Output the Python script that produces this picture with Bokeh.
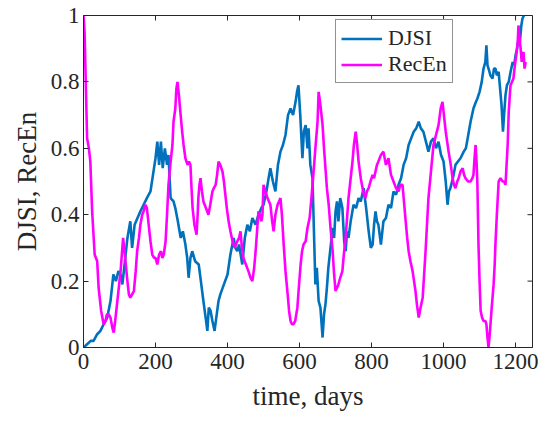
import math
from bokeh.plotting import figure
from bokeh.models import LinearAxis, Range1d, Legend, LegendItem, FixedTicker
from bokeh.embed import file_html
from bokeh.resources import INLINE

# ---- data ----
djsi_days = [0, 10, 20, 28, 38, 47, 56, 66, 75, 83, 90, 97, 103, 108, 115, 122, 130, 135, 142, 150,
             158, 167, 176, 186, 193, 200, 205, 210, 215, 220, 226, 232, 236, 242, 250, 255, 262, 270,
             276, 283, 288, 292, 297, 302, 310, 320, 326, 333, 338, 344, 348, 353, 358, 364, 370, 375,
             380, 390, 400, 408, 417, 422, 427, 432, 441, 448, 455, 462, 469, 478, 486, 494, 500, 508,
             514, 519, 526, 533, 540, 547, 554, 561, 568, 575, 582, 589, 593, 597, 602, 608, 612, 617,
             622, 625, 630, 636, 640, 644, 648, 653, 658, 664, 668, 672, 676, 680, 686, 692, 696, 700,
             704, 708, 713, 719, 724, 728, 732, 736, 742, 750, 757, 764, 770, 778, 785, 792, 798, 803,
             807, 811, 815, 819, 826, 833, 840, 847, 854, 861, 868, 875, 882, 889, 896, 903, 910, 917,
             924, 931, 937, 944, 951, 958, 965, 972, 979, 986, 993, 1000, 1006, 1011, 1015, 1019, 1026,
             1033, 1040, 1047, 1056, 1062, 1067, 1075, 1083, 1090, 1094, 1100, 1106, 1111, 1116, 1119,
             1122, 1125, 1130, 1136, 1140, 1144, 1148, 1153, 1157, 1161, 1165, 1168, 1172, 1176, 1181,
             1186, 1192, 1196, 1200, 1204, 1208, 1212, 1216, 1219, 1223]
djsi = [0.00, 0.01, 0.02, 0.02, 0.04, 0.05, 0.07, 0.09, 0.14, 0.22, 0.20, 0.23, 0.22, 0.19, 0.26, 0.33,
        0.38, 0.30, 0.37, 0.39, 0.41, 0.43, 0.45, 0.47, 0.52, 0.57, 0.62, 0.55, 0.62, 0.54, 0.60, 0.55,
        0.58, 0.45, 0.44, 0.42, 0.38, 0.33, 0.35, 0.31, 0.27, 0.21, 0.27, 0.29, 0.26, 0.25, 0.20, 0.14,
        0.10, 0.05, 0.12, 0.11, 0.08, 0.05, 0.10, 0.14, 0.16, 0.19, 0.22, 0.28, 0.33, 0.30, 0.29, 0.31,
        0.25, 0.33, 0.37, 0.35, 0.39, 0.37, 0.40, 0.42, 0.43, 0.47, 0.51, 0.54, 0.50, 0.47, 0.55, 0.59,
        0.61, 0.64, 0.70, 0.72, 0.70, 0.74, 0.77, 0.79, 0.70, 0.57, 0.65, 0.67, 0.60, 0.66, 0.55, 0.51,
        0.35, 0.19, 0.24, 0.14, 0.12, 0.03, 0.10, 0.13, 0.18, 0.24, 0.30, 0.36, 0.33, 0.41, 0.44, 0.38,
        0.45, 0.42, 0.32, 0.29, 0.35, 0.33, 0.38, 0.43, 0.42, 0.45, 0.44, 0.48, 0.42, 0.35, 0.30, 0.31,
        0.37, 0.41, 0.38, 0.37, 0.31, 0.38, 0.39, 0.43, 0.42, 0.47, 0.46, 0.49, 0.51, 0.55, 0.57, 0.61,
        0.63, 0.65, 0.66, 0.68, 0.66, 0.65, 0.62, 0.59, 0.62, 0.63, 0.60, 0.62, 0.58, 0.56, 0.50, 0.43,
        0.47, 0.48, 0.51, 0.55, 0.56, 0.57, 0.59, 0.60, 0.63, 0.68, 0.72, 0.74, 0.75, 0.77, 0.80, 0.84,
        0.86, 0.91, 0.85, 0.84, 0.82, 0.81, 0.84, 0.84, 0.82, 0.83, 0.78, 0.73, 0.65, 0.70, 0.76, 0.79,
        0.80, 0.83, 0.86, 0.85, 0.88, 0.90, 0.93, 0.92, 0.97, 0.99, 1.00]

recen_days = [0, 3, 6, 10, 15, 19, 24, 31, 38, 42, 49, 56, 61, 65, 70, 75, 80, 84, 88, 93, 98, 103, 110,
              115, 121, 126, 130, 135, 140, 145, 149, 154, 158, 163, 167, 172, 176, 181, 186, 191, 196,
              200, 205, 210, 215, 219, 223, 228, 232, 236, 242, 247, 250, 255, 258, 261, 265, 269, 274,
              278, 283, 289, 293, 297, 300, 303, 308, 314, 317, 319, 322, 325, 329, 333, 340, 347, 352,
              358, 362, 367, 371, 375, 380, 386, 390, 394, 398, 403, 408, 414, 420, 427, 432, 436, 440,
              444, 451, 458, 464, 469, 474, 478, 482, 486, 490, 494, 497, 500, 505, 511, 515, 519, 524,
              528, 533, 539, 543, 547, 551, 556, 561, 567, 571, 575, 579, 583, 588, 594, 598, 603, 607,
              611, 617, 622, 628, 633, 639, 644, 650, 653, 657, 661, 664, 668, 672, 676, 681, 686, 692,
              696, 700, 704, 708, 713, 719, 723, 728, 732, 736, 741, 747, 751, 756, 760, 764, 770, 775,
              779, 783, 787, 792, 797, 803, 807, 811, 815, 819, 826, 833, 840, 847, 854, 861, 868, 875,
              880, 886, 890, 894, 899, 903, 908, 914, 918, 922, 926, 931, 936, 942, 946, 950, 954, 958,
              965, 972, 979, 986, 992, 997, 1001, 1006, 1010, 1014, 1020, 1025, 1029, 1033, 1038, 1042,
              1047, 1053, 1057, 1061, 1068, 1075, 1080, 1083, 1086, 1089, 1092, 1094, 1097, 1100, 1103,
              1107, 1111, 1116, 1119, 1122, 1125, 1129, 1133, 1136, 1139, 1142, 1144, 1148, 1153, 1158,
              1164, 1168, 1172, 1175, 1178, 1181, 1184, 1186, 1190, 1194, 1198, 1202, 1206, 1208, 1211,
              1214, 1217, 1219, 1222, 1225, 1228]
recen = [1.00, 0.95, 0.81, 0.63, 0.60, 0.56, 0.41, 0.28, 0.26, 0.18, 0.11, 0.07, 0.08, 0.10, 0.10, 0.09,
         0.06, 0.045, 0.08, 0.13, 0.18, 0.23, 0.33, 0.28, 0.21, 0.16, 0.15, 0.16, 0.17, 0.23, 0.29, 0.33,
         0.37, 0.40, 0.41, 0.43, 0.42, 0.37, 0.32, 0.28, 0.27, 0.27, 0.25, 0.28, 0.29, 0.27, 0.28, 0.32,
         0.40, 0.49, 0.56, 0.61, 0.68, 0.72, 0.78, 0.80, 0.76, 0.71, 0.65, 0.61, 0.57, 0.55, 0.56, 0.55,
         0.48, 0.42, 0.37, 0.34, 0.40, 0.45, 0.49, 0.51, 0.47, 0.44, 0.42, 0.40, 0.43, 0.47, 0.48, 0.49,
         0.52, 0.56, 0.55, 0.53, 0.50, 0.46, 0.42, 0.38, 0.35, 0.32, 0.30, 0.32, 0.33, 0.35, 0.30, 0.27,
         0.25, 0.23, 0.21, 0.20, 0.24, 0.29, 0.35, 0.41, 0.40, 0.38, 0.40, 0.49, 0.47, 0.45, 0.44, 0.43,
         0.38, 0.35, 0.40, 0.43, 0.44, 0.45, 0.40, 0.31, 0.23, 0.16, 0.11, 0.08, 0.07, 0.07, 0.08, 0.12,
         0.18, 0.25, 0.29, 0.31, 0.32, 0.36, 0.39, 0.45, 0.53, 0.60, 0.68, 0.77, 0.74, 0.70, 0.67, 0.60,
         0.54, 0.48, 0.43, 0.36, 0.29, 0.22, 0.17, 0.18, 0.19, 0.21, 0.23, 0.28, 0.33, 0.39, 0.45, 0.50,
         0.56, 0.61, 0.65, 0.61, 0.56, 0.51, 0.48, 0.46, 0.45, 0.47, 0.48, 0.50, 0.52, 0.51, 0.53, 0.55,
         0.56, 0.58, 0.59, 0.55, 0.57, 0.52, 0.50, 0.48, 0.47, 0.49, 0.49, 0.44, 0.39, 0.33, 0.29, 0.26,
         0.23, 0.20, 0.17, 0.13, 0.09, 0.12, 0.15, 0.22, 0.29, 0.37, 0.45, 0.53, 0.61, 0.64, 0.67, 0.72,
         0.74, 0.70, 0.65, 0.62, 0.59, 0.55, 0.51, 0.49, 0.48, 0.50, 0.51, 0.53, 0.54, 0.52, 0.51, 0.50,
         0.50, 0.51, 0.52, 0.57, 0.61, 0.55, 0.49, 0.31, 0.20, 0.11, 0.09, 0.08, 0.08, 0.07, 0.03, 0.00,
         0.05, 0.11, 0.15, 0.19, 0.25, 0.31, 0.40, 0.50, 0.51, 0.50, 0.50, 0.49, 0.55, 0.61, 0.71, 0.76,
         0.79, 0.80, 0.81, 0.85, 0.88, 0.92, 0.97, 0.93, 0.90, 0.86, 0.88, 0.89, 0.84, 0.86]

x_ticks = [0, 200, 400, 600, 800, 1000, 1200]
y_ticks = [0, 0.2, 0.4, 0.6, 0.8, 1]
x_max = 1247
x_label = "time, days"
y_label = "DJSI, RecEn"
series_names = ["DJSI", "RecEn"]

FONT = "Liberation Serif"
AX = "#262626"

p = figure(width=550, height=421, output_backend="svg", toolbar_location=None,
           x_range=Range1d(0, x_max), y_range=Range1d(0, 1),
           x_axis_location=None, y_axis_location=None,
           min_border_left=83, min_border_right=18, min_border_top=15, min_border_bottom=74)
p.background_fill_color = "white"
p.border_fill_color = "white"
p.outline_line_color = AX
p.outline_line_width = 1
p.xgrid.visible = False
p.ygrid.visible = False

def style_axis(ax):
    ax.axis_line_color = AX
    ax.axis_line_width = 1
    ax.major_tick_line_color = AX
    ax.major_tick_in = 5
    ax.major_tick_out = 0
    ax.minor_tick_line_color = None
    ax.major_label_text_font = FONT
    ax.major_label_text_color = AX
    ax.major_label_text_font_size = "23px"
    ax.axis_label_text_font = FONT
    ax.axis_label_text_font_size = "27px"
    ax.axis_label_text_font_style = "normal"
    ax.axis_label_text_color = AX

xb = LinearAxis(ticker=FixedTicker(ticks=x_ticks), axis_label=x_label)
style_axis(xb)
xb.major_label_standoff = 6
xb.axis_label_standoff = 9
p.add_layout(xb, "below")

yl = LinearAxis(ticker=FixedTicker(ticks=y_ticks), axis_label=y_label)
style_axis(yl)
yl.major_label_standoff = 4
yl.axis_label_standoff = 6
yl.major_label_overrides = {0: "0", 1: "1"}
p.add_layout(yl, "left")

# inward ticks on the top and right edges of the box
p.ray(x=x_ticks, y=[1] * len(x_ticks), length=5, angle=-math.pi / 2,
      length_units="screen", line_color=AX, line_width=1)
p.ray(x=[x_max] * len(y_ticks), y=y_ticks, length=5, angle=math.pi,
      length_units="screen", line_color=AX, line_width=1)

r1 = p.line(djsi_days, djsi, line_color="#0072BD", line_width=2.6)
r2 = p.line(recen_days, recen, line_color="#FF00FF", line_width=2.6)

legend = Legend(items=[LegendItem(label=series_names[0], renderers=[r1]),
                       LegendItem(label=series_names[1], renderers=[r2])],
                location=(252, 264))
legend.label_text_font = FONT
legend.label_text_font_size = "22px"
legend.label_text_color = AX
legend.border_line_color = AX
legend.border_line_width = 1
legend.background_fill_color = "white"
legend.background_fill_alpha = 1
legend.glyph_width = 41
legend.glyph_height = 25
legend.label_height = 25
legend.label_standoff = 6
legend.spacing = 0
legend.padding = 5
legend.margin = 0
p.add_layout(legend, "center")

open("out.html", "w").write(file_html(p, INLINE))
